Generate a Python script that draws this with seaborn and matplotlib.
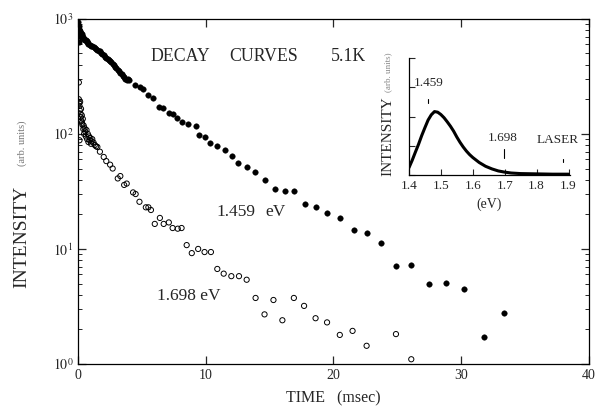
import numpy as np
import pandas as pd
import matplotlib
matplotlib.use("Agg")
import matplotlib.pyplot as plt
import seaborn as sns
from matplotlib.ticker import LogLocator, NullFormatter

# ---- data: 1.459 eV decay (filled) ----
filled_t = [0.02, 0.04, 0.06, 0.08, 0.10, 0.10, 0.12, 0.15, 0.18, 0.20, 0.22, 0.25, 0.28, 0.30,
            0.35, 0.40, 0.45, 0.50, 0.55, 0.60, 0.65, 0.70, 0.75, 0.80, 0.90, 1.00, 1.10, 1.20,
            1.30, 1.40, 1.50, 1.60, 1.70, 1.80, 1.90, 2.00, 2.10, 2.20, 2.30, 2.40, 2.50, 2.60,
            2.70, 2.80, 2.90, 3.00, 3.10, 3.20, 3.30, 3.40, 3.50, 3.60, 3.70, 3.80, 3.90, 4.00,
            4.42, 4.81, 5.07, 5.45, 5.84, 6.36, 6.62, 7.13, 7.39, 7.78, 8.16, 8.63, 9.20, 9.46,
            9.92, 10.36, 10.88, 11.50, 12.04, 12.56, 13.20, 13.85, 14.60, 15.40, 16.20, 16.90,
            17.80, 18.60, 19.50, 20.50, 21.60, 22.60, 23.70, 24.90, 26.10, 27.50, 28.80, 30.20,
            31.80, 33.40]
filled_i = [930, 870, 800, 740, 630, 820, 760, 790, 710, 760, 730, 700, 740, 710,
            690, 680, 670, 660, 650, 655, 640, 625, 615, 605, 595, 585, 575, 565,
            555, 545, 535, 525, 520, 505, 492, 482, 470, 460, 450, 440, 428, 418,
            405, 395, 385, 375, 362, 350, 340, 330, 320, 310, 302, 296, 300, 292,
            267, 255, 245, 218, 204, 171, 167, 151, 149, 137, 128, 121, 116, 98,
            94, 83, 79, 73, 64, 56, 52, 47, 40, 33, 32, 32,
            24.6, 23.0, 20.6, 18.6, 14.6, 13.8, 11.3, 7.1, 7.2, 5.0, 5.1, 4.5,
            1.72, 2.8]

# ---- data: 1.698 eV decay (open) ----
open_t = [0.05, 0.05, 0.08, 0.10, 0.10, 0.12, 0.15, 0.18, 0.20, 0.22, 0.25, 0.28, 0.30, 0.33,
          0.36, 0.40, 0.43, 0.46, 0.50, 0.55, 0.60, 0.65, 0.70, 0.75, 0.80, 0.85, 0.90, 0.95,
          1.00, 1.05, 1.10, 1.20, 1.30, 1.40, 1.50, 1.70, 2.00, 2.20, 2.50, 2.70, 3.10, 3.30,
          3.60, 3.80, 4.30, 4.50, 4.80, 5.30, 5.50, 5.70, 6.00, 6.40, 6.70, 7.10, 7.40, 7.80,
          8.10, 8.50, 8.90, 9.40, 9.90, 10.40, 10.90, 11.40, 12.00, 12.60, 13.20, 13.90, 14.60,
          15.30, 16.00, 16.90, 17.70, 18.60, 19.50, 20.50, 21.50, 22.60, 24.90, 26.10]
open_i = [280, 200, 185, 175, 88, 160, 190, 150, 140, 165, 130, 145, 125, 120,
          135, 110, 118, 100, 112, 105, 95, 108, 90, 100, 85, 95, 88, 92,
          82, 86, 90, 84, 80, 78, 77, 70, 63, 58, 54, 50, 41, 43,
          36, 37, 31, 30, 25.7, 23.0, 23.0, 21.8, 16.5, 18.6, 16.5, 17.0, 15.2, 15.0,
          15.2, 10.8, 9.2, 10.0, 9.4, 9.4, 6.7, 6.1, 5.8, 5.8, 5.4, 3.75, 2.7,
          3.6, 2.4, 3.75, 3.2, 2.5, 2.3, 1.79, 1.94, 1.44, 1.82, 1.1]

# ---- inset: emission spectrum ----
spec_ev = [1.400, 1.410, 1.420, 1.430, 1.440, 1.450, 1.460, 1.470, 1.480, 1.490, 1.500, 1.510,
           1.520, 1.530, 1.540, 1.550, 1.560, 1.570, 1.580, 1.590, 1.600, 1.620, 1.640, 1.660,
           1.680, 1.700, 1.720, 1.750, 1.800, 1.850, 1.900]
spec_i = [0.25, 0.50, 0.78, 1.05, 1.35, 1.62, 1.88, 2.06, 2.17, 2.15, 2.07, 1.96,
          1.82, 1.67, 1.50, 1.30, 1.12, 0.96, 0.82, 0.70, 0.60, 0.43, 0.30, 0.21,
          0.14, 0.10, 0.07, 0.05, 0.04, 0.03, 0.03]

x_ticks = [0, 10, 20, 30, 40]
inset_xticks = [1.4, 1.5, 1.6, 1.7, 1.8, 1.9]

sns.set_theme(style="ticks")
plt.rcParams['font.family'] = ['Liberation Serif', 'DejaVu Serif']
plt.rcParams['mathtext.fontset'] = 'stix'

fig = plt.figure(figsize=(5.97, 4.09), dpi=100)
ax = fig.add_axes([0.131, 0.110, 0.855, 0.844])

df_f = pd.DataFrame({"t": filled_t, "I": filled_i})
df_o = pd.DataFrame({"t": open_t, "I": open_i})
sns.scatterplot(data=df_f, x="t", y="I", ax=ax, s=16, color="black", edgecolor="black",
                linewidth=0.3, legend=False)
sns.scatterplot(data=df_o, x="t", y="I", ax=ax, s=14, facecolor="none", edgecolor="black",
                linewidth=0.7, legend=False)

ax.set_yscale("log")
ax.set_xlim(0, 40)
ax.set_ylim(1, 1000)
ax.set_xticks(x_ticks)
ax.set_xticklabels([str(v) for v in x_ticks], fontsize=10)
ax.yaxis.set_minor_locator(LogLocator(base=10, subs=np.arange(2, 10), numticks=20))
ax.yaxis.set_minor_formatter(NullFormatter())
ax.set_yticks([1, 10, 100, 1000])
ax.set_yticklabels([r"$10^0$", r"$10^1$", r"$10^2$", r"$10^3$"], fontsize=10)
ax.tick_params(axis="both", which="both", direction="in", top=True, right=True)
ax.tick_params(axis="both", which="major", length=6, width=0.9)
ax.tick_params(axis="y", which="minor", length=3, width=0.7)
for sp in ax.spines.values():
    sp.set_linewidth(0.9)
    sp.set_color("black")
ax.set_xlabel("")
ax.set_ylabel("")

fig.text(0.558, 0.027, "TIME   (msec)", ha="center", va="center", fontsize=11.5)
fig.text(0.037, 0.420, "INTENSITY", rotation=90, ha="center", va="center", fontsize=14)
fig.text(0.037, 0.650, "(arb. units)", rotation=90, ha="center", va="center", fontsize=7.5,
         color="#777777")

ax.text(5.7, 468, "DECAY", ha="left", va="center", fontsize=12.8)
ax.text(11.8, 468, "CURVES", ha="left", va="center", fontsize=12.8)
ax.text(19.8, 468, "5.1K", ha="left", va="center", fontsize=12.8)
ax.text(10.8, 21, "1.459", ha="left", va="center", fontsize=12.5)
ax.text(14.7, 21, "eV", ha="left", va="center", fontsize=12.5)
ax.text(6.2, 3.9, "1.698 eV", ha="left", va="center", fontsize=12.5)

# inset
axi = fig.add_axes([0.685, 0.572, 0.270, 0.286])
df_s = pd.DataFrame({"ev": spec_ev, "I": spec_i})
sns.lineplot(data=df_s, x="ev", y="I", ax=axi, color="black", linewidth=2.2)
axi.set_xlim(1.4, 1.905)
axi.set_ylim(0, 4)
axi.set_xticks(inset_xticks)
axi.set_xticklabels([f"{v:.1f}" for v in inset_xticks], fontsize=9.5)
axi.set_yticks([0, 1, 2, 3, 4])
axi.set_yticklabels([])
axi.tick_params(axis="both", direction="in", length=4, width=0.8)
axi.spines["top"].set_visible(False)
axi.spines["right"].set_visible(False)
for s in ["left", "bottom"]:
    axi.spines[s].set_linewidth(0.9)
    axi.spines[s].set_color("black")
axi.set_xlabel("(eV)", fontsize=10)
axi.set_ylabel("")
axi.text(-0.13, 0.33, "INTENSITY", rotation=90, ha="center", va="center",
         transform=axi.transAxes, fontsize=11)
axi.text(-0.13, 0.88, "(arb. units)", rotation=90, ha="center", va="center",
         transform=axi.transAxes, fontsize=6.5, color="#888888")
axi.text(1.415, 3.15, "1.459", ha="left", va="center", fontsize=9.5)
axi.plot([1.459, 1.459], [2.45, 2.6], color="black", linewidth=0.8)
axi.text(1.648, 1.25, "1.698", ha="left", va="center", fontsize=9.5)
axi.plot([1.698, 1.698], [0.6, 0.9], color="black", linewidth=0.8)
axi.text(1.80, 1.2, "LASER", ha="left", va="center", fontsize=9.5)
axi.plot([1.883, 1.883], [0.45, 0.55], color="black", linewidth=0.8)

fig.savefig("out.png", dpi=100)
